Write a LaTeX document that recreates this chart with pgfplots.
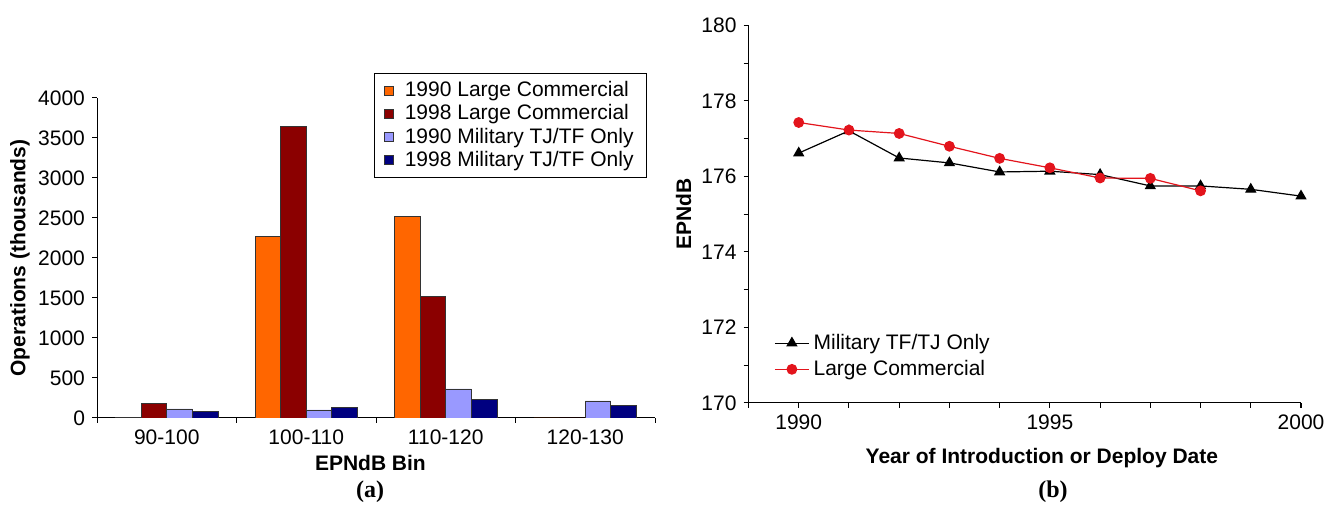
\documentclass[border=0pt]{standalone}
\usepackage{pgfplots}
\pgfplotsset{compat=1.18}
\usepackage{fontspec}
\setmainfont{Liberation Sans}
\newfontfamily\capfont{Liberation Serif}
\newcommand\fs{\fontsize{10.5}{12}\selectfont}
\definecolor{lcA}{HTML}{FF6600}
\definecolor{lcB}{HTML}{8B0000}
\definecolor{milA}{HTML}{9999FF}
\definecolor{milB}{HTML}{000080}
\definecolor{redline}{HTML}{E3141C}
\begin{document}
\begin{tikzpicture}[font=\fs]
\useasboundingbox (0,0) rectangle (663pt,253pt);
% ---------------- (a) ----------------
\begin{axis}[
  at={(48.5pt,44pt)}, anchor=south west, scale only axis,
  width=279pt, height=160pt,
  axis x line=bottom, axis y line=left, axis line style={-, line width=0.5pt},
  xmin=-0.5, xmax=3.5, ymin=0, ymax=4000,
  xtick={0,1,2,3}, xticklabels={90-100,100-110,110-120,120-130},
  major x tick style={draw=none},
  minor xtick={-0.5,0.5,1.5,2.5,3.5},
  ytick={0,500,...,4000},
  tick align=outside, major tick length=2.5pt, minor tick length=2.5pt,
  tick style={black, line width=0.5pt},
  /pgf/number format/assume math mode=true,
  /pgf/number format/1000 sep={},
  ybar=0pt, bar width=12.8pt,
  xlabel={EPNdB Bin}, ylabel={Operations (thousands)},
  xlabel style={font=\fs\bfseries, at={(axis description cs:0.49,-0.14)}, anchor=center},
  ylabel style={font=\fs\bfseries, at={(axis description cs:-0.138,0.5)}, anchor=center, rotate=0},
  legend style={at={(rel axis cs:0.9857,1.078)}, anchor=north east, draw=black,
    line width=0.5pt, inner xsep=4.5pt, inner ysep=2pt, row sep=-1.5pt, font=\fs,
    legend cell align=left},
  legend image code/.code={\draw[#1, line width=0.5pt] (0pt,-2.25pt) rectangle (4.5pt,2.25pt); \path (8pt,0pt);},
]
\addplot[fill=lcA, draw=black!80, line width=0.4pt] coordinates {(0,10) (1,2270) (2,2520) (3,0)};
\addplot[fill=lcB, draw=black!80, line width=0.4pt] coordinates {(0,180) (1,3640) (2,1520) (3,0)};
\addplot[fill=milA, draw=black!80, line width=0.4pt] coordinates {(0,113) (1,100) (2,363) (3,213)};
\addplot[fill=milB, draw=black!80, line width=0.4pt] coordinates {(0,79) (1,130) (2,230) (3,159)};
\legend{1990 Large Commercial, 1998 Large Commercial, 1990 Military TJ/TF Only, 1998 Military TJ/TF Only}
\end{axis}
% ---------------- (b) ----------------
\begin{axis}[
  at={(374.25pt,51.5pt)}, anchor=south west, scale only axis,
  width=276.25pt, height=188.75pt,
  axis x line=bottom, axis y line=left, axis line style={-, line width=0.5pt},
  xmin=1989, xmax=2000, ymin=170, ymax=180,
  xtick={1990,1995,2000}, minor xtick={1989,...,2000},
  ytick={170,172,...,180}, minor ytick={171,173,...,179},
  tick align=outside, major tick length=2.5pt, minor tick length=2.5pt,
  tick style={black, line width=0.5pt},
  /pgf/number format/assume math mode=true,
  /pgf/number format/1000 sep={},
  xlabel={Year of Introduction or Deploy Date}, ylabel={EPNdB},
  xlabel style={font=\fs\bfseries, at={(axis description cs:0.531,-0.1455)}, anchor=center},
  ylabel style={font=\fs\bfseries, at={(axis description cs:-0.1175,0.5)}, anchor=center, rotate=0},
  legend style={at={(rel axis cs:0.035,0.205)}, anchor=north west, draw=none, fill=none,
    font=\fs, row sep=0pt, legend cell align=left},
]
\addplot[black, line width=0.6pt, mark=triangle*, mark size=2.7pt] coordinates {
 (1990,176.62) (1991,177.21) (1992,176.49) (1993,176.36) (1994,176.12) (1995,176.14)
 (1996,176.05) (1997,175.75) (1998,175.75) (1999,175.66) (2000,175.48)};
\addplot[redline, line width=0.6pt, mark=*, mark size=2.4pt, mark options={fill=redline, draw=redline}] coordinates {
 (1990,177.43) (1991,177.23) (1992,177.14) (1993,176.80) (1994,176.48) (1995,176.23)
 (1996,175.96) (1997,175.95) (1998,175.62)};
\legend{Military TF/TJ Only, Large Commercial}
\end{axis}
\node[font=\fontsize{12}{14}\selectfont\capfont\bfseries] at (185pt,7pt) {(a)};
\node[font=\fontsize{12}{14}\selectfont\capfont\bfseries] at (526.5pt,7pt) {(b)};
\end{tikzpicture}
\end{document}
